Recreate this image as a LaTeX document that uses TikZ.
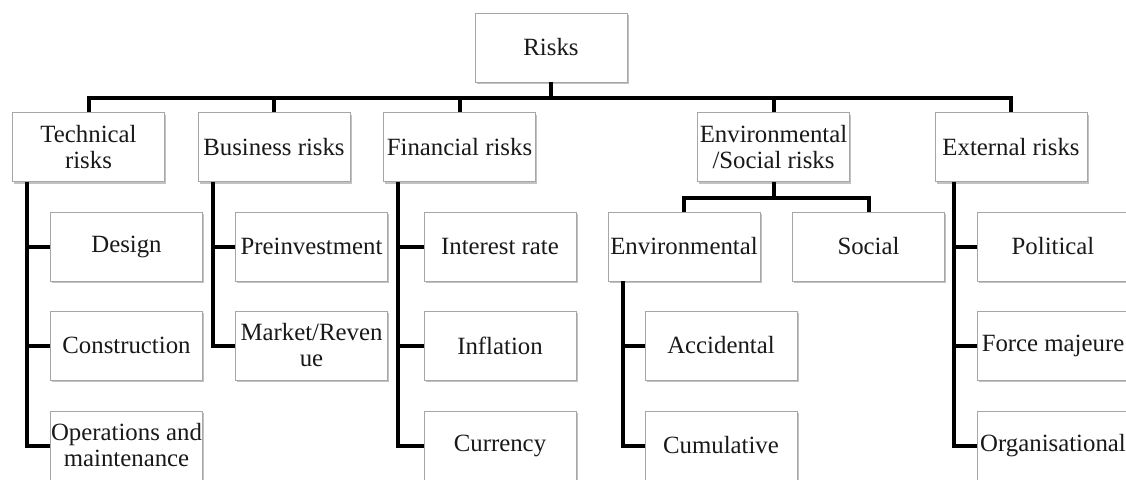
\documentclass[tikz,border=0pt]{standalone}
\usepackage{fontspec}
\setmainfont{Liberation Serif}
\usepackage{tikz}
\usetikzlibrary{
	positioning,
	shadows
}

\begin{document}
\begin{tikzpicture}[
			x=1pt, y=-1pt,
			font=\fontsize{24.8}{26}\selectfont,
			caixa/.style={draw=black!35, line width=0.8pt, fill=white, minimum width=152pt, minimum height=69pt, align=center, inner sep=0pt, text=black!90,
				drop shadow={shadow xshift=1.5pt, shadow yshift=-2pt, fill=black!40, opacity=0.6}},
			ln/.style={line width=4pt, black}
		]

		\useasboundingbox (0,0) rectangle (1126,479);

		\node[caixa] (risks) at (551,47.5) {Risks};

		\node[caixa] (tec) at (88.5,147) {Technical\\ risks};
		\node[caixa] (bus) at (274,147) {Business risks};
		\node[caixa] (fin) at (459.5,147) {Financial risks};
		\node[caixa] (env) at (773.5,147) {Environmental\\ /Social risks};
		\node[caixa] (ext) at (1011,147) {External risks};

		\node[caixa] (des) at (126.5,246.5) {Design};
		\node[caixa] (con) at (126.5,345.5) {Construction};
		\node[caixa] (ope) at (126.5,445.5) {Operations and\\ maintenance};

		\node[caixa] (pre) at (311.5,246.5) {Preinvestment};
		\node[caixa] (mar) at (311.5,345.5) {Market/Reven\\ ue};

		\node[caixa] (int) at (500,246.5) {Interest rate};
		\node[caixa] (inf) at (500,345.5) {Inflation};
		\node[caixa] (cur) at (500,445.5) {Currency};

		\node[caixa] (envl) at (684,246.5) {Environmental};
		\node[caixa] (soc) at (868.5,246.5) {Social};
		\node[caixa] (acc) at (721,345.5) {Accidental};
		\node[caixa] (cum) at (721,445.5) {Cumulative};

		\node[caixa] (pol) at (1053,246.5) {Political};
		\node[caixa] (for) at (1053,345.5) {Force majeure};
		\node[caixa] (org) at (1053,445.5) {Organisational};

		\foreach \n in {tec,bus,fin,env,ext}
			\draw[ln] (risks.south) -- +(0,16) -| (\n.north);
		\foreach \n in {envl,soc}
			\draw[ln] (env.south) -- +(0,16) -| (\n.north);

		\foreach \n in {des,con,ope}
			\draw[ln] ([xshift=15pt]tec.south west) |- (\n.west);
		\foreach \n in {pre,mar}
			\draw[ln] ([xshift=15pt]bus.south west) |- (\n.west);
		\foreach \n in {int,inf,cur}
			\draw[ln] ([xshift=15pt]fin.south west) |- (\n.west);
		\foreach \n in {acc,cum}
			\draw[ln] ([xshift=15pt]envl.south west) |- (\n.west);
		\foreach \n in {pol,for,org}
			\draw[ln] ([xshift=19pt]ext.south west) |- (\n.west);
	\end{tikzpicture}
\end{document}
